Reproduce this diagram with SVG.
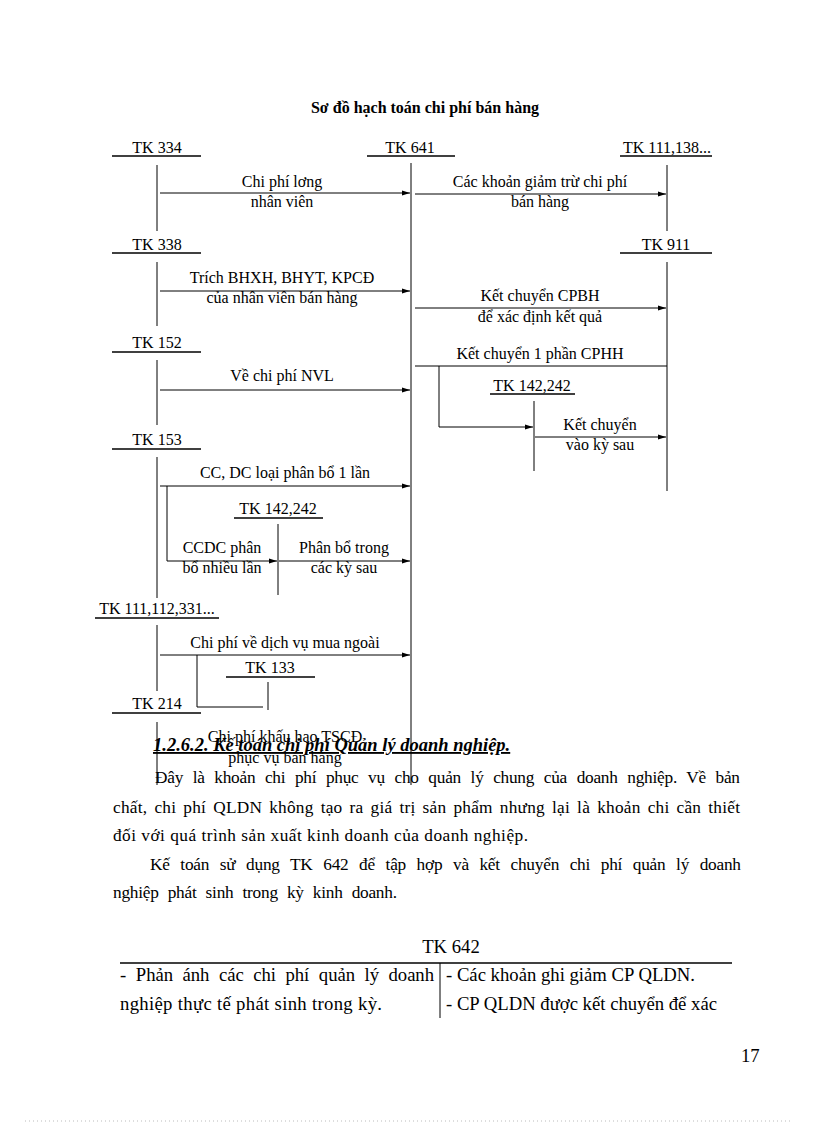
<svg xmlns="http://www.w3.org/2000/svg" width="816" height="1123" viewBox="0 0 816 1123">
<style>
.t{font-family:"Liberation Serif","Times New Roman",serif;font-size:16px;fill:#000}
.m{text-anchor:middle}
.b{font-family:"Liberation Serif","Times New Roman",serif;font-size:17.3px;fill:#000}
.tb{font-family:"Liberation Serif","Times New Roman",serif;font-size:18.7px;fill:#000}
.ln{stroke:#000;stroke-width:1;fill:none}
.ul{stroke:#000;stroke-width:1.3;fill:none}
</style>
<defs>
<marker id="ah" markerWidth="8" markerHeight="6" refX="8" refY="3" orient="auto" markerUnits="userSpaceOnUse">
<path d="M0,0.5 L8,3 L0,5.5 Z" fill="#000"/>
</marker>
</defs>
<rect width="816" height="1123" fill="#fff"/>
<text x="425" y="113" class="t m" style="font-weight:bold">Sơ đồ hạch toán chi phí bán hàng</text>

<g id="tk334"><text x="157" y="153" class="t m">TK 334</text><line x1="112" y1="156" x2="201" y2="156" class="ul"/><line x1="157" y1="165" x2="157" y2="231" class="ln"/></g>
<g id="tk641"><text x="410" y="153" class="t m">TK 641</text><line x1="367" y1="156" x2="455" y2="156" class="ul"/><line x1="411" y1="163" x2="411" y2="785" class="ln"/></g>
<g id="tk111_138"><text x="667" y="153" class="t m">TK 111,138...</text><line x1="620" y1="156" x2="712" y2="156" class="ul"/><line x1="667" y1="165" x2="667" y2="231" class="ln"/></g>
<g id="tk338"><text x="157" y="250" class="t m">TK 338</text><line x1="112" y1="253" x2="201" y2="253" class="ul"/><line x1="157" y1="262" x2="157" y2="326" class="ln"/></g>
<g id="tk911"><text x="666" y="250" class="t m">TK 911</text><line x1="620" y1="253" x2="712" y2="253" class="ul"/><line x1="667" y1="262" x2="667" y2="491" class="ln"/></g>
<g id="tk152"><text x="157" y="348" class="t m">TK 152</text><line x1="112" y1="352" x2="201" y2="352" class="ul"/><line x1="157" y1="360" x2="157" y2="425" class="ln"/></g>
<g id="tk142_242a"><text x="532" y="391" class="t m">TK 142,242</text><line x1="490" y1="394" x2="575" y2="394" class="ul"/><line x1="534" y1="401" x2="534" y2="471" class="ln"/></g>
<g id="tk153"><text x="157" y="445" class="t m">TK 153</text><line x1="112" y1="449" x2="201" y2="449" class="ul"/><line x1="157" y1="457" x2="157" y2="598" class="ln"/></g>
<g id="tk142_242b"><text x="278" y="514" class="t m">TK 142,242</text><line x1="234" y1="518" x2="323" y2="518" class="ul"/><line x1="278" y1="524" x2="278" y2="595" class="ln"/></g>
<g id="tk111_112_331"><text x="157" y="614" class="t m">TK 111,112,331...</text><line x1="95" y1="618" x2="219" y2="618" class="ul"/><line x1="157" y1="625" x2="157" y2="691" class="ln"/></g>
<g id="tk133"><text x="270" y="673" class="t m">TK 133</text><line x1="226" y1="677" x2="315" y2="677" class="ul"/><line x1="268" y1="682" x2="268" y2="710" class="ln"/></g>
<g id="tk214"><text x="157" y="709" class="t m">TK 214</text><line x1="112" y1="713" x2="201" y2="713" class="ul"/><line x1="157" y1="722" x2="157" y2="785" class="ln"/></g>

<g id="connectors">
<line x1="160" y1="193" x2="410" y2="193" class="ln" marker-end="url(#ah)"/>
<line x1="415" y1="194" x2="666" y2="194" class="ln" marker-end="url(#ah)"/>
<line x1="160" y1="291" x2="410" y2="291" class="ln" marker-end="url(#ah)"/>
<line x1="415" y1="308" x2="666" y2="308" class="ln" marker-end="url(#ah)"/>
<line x1="415" y1="366" x2="667" y2="366" class="ln"/>
<polyline points="439,366 439,427 533,427" class="ln" marker-end="url(#ah)"/>
<line x1="535" y1="437" x2="666" y2="437" class="ln" marker-end="url(#ah)"/>
<line x1="160" y1="390" x2="410" y2="390" class="ln" marker-end="url(#ah)"/>
<line x1="160" y1="486" x2="410" y2="486" class="ln" marker-end="url(#ah)"/>
<polyline points="167,486 167,561 277,561" class="ln" marker-end="url(#ah)"/>
<line x1="279" y1="561" x2="410" y2="561" class="ln" marker-end="url(#ah)"/>
<line x1="160" y1="655" x2="410" y2="655" class="ln" marker-end="url(#ah)"/>
<polyline points="197,655 197,707 263,707" class="ln"/>
</g>

<g id="labels">
<text x="282" y="187" class="t m">Chi phí lơng</text>
<text x="282" y="207" class="t m">nhân viên</text>
<text x="540" y="187" class="t m">Các khoản giảm trừ chi phí</text>
<text x="540" y="207" class="t m">bán hàng</text>
<text x="282" y="283" class="t m">Trích BHXH, BHYT, KPCĐ</text>
<text x="282" y="303" class="t m">của nhân viên bán hàng</text>
<text x="540" y="301" class="t m">Kết chuyển CPBH</text>
<text x="540" y="322" class="t m">để xác định kết quả</text>
<text x="540" y="359" class="t m">Kết chuyển 1 phần CPHH</text>
<text x="282" y="381" class="t m">Về chi phí NVL</text>
<text x="600" y="430" class="t m">Kết chuyển</text>
<text x="600" y="450" class="t m">vào kỳ sau</text>
<text x="285" y="478" class="t m">CC, DC loại phân bổ 1 lần</text>
<text x="222" y="553" class="t m">CCDC phân</text>
<text x="222" y="573" class="t m">bổ nhiều lần</text>
<text x="344" y="553" class="t m">Phân bổ trong</text>
<text x="344" y="573" class="t m">các kỳ sau</text>
<text x="285" y="648" class="t m">Chi phí về dịch vụ mua ngoài</text>
<text x="285" y="742" class="t m">Chi phí khấu hao TSCĐ</text>
<text x="285" y="763" class="t m">phục vụ bán hàng</text>
</g>

<g id="body">
<text x="153" y="751" class="b" style="font-size:18.5px;font-weight:bold;font-style:italic;text-decoration:underline">1.2.6.2. Kế toán chi phí Quản lý doanh nghiệp.</text>
<text x="155" y="783" class="b" style="word-spacing:5.5px" textLength="585" lengthAdjust="spacing">Đây là khoản chi phí phục vụ cho quản lý chung của doanh nghiệp. Về bản</text>
<text x="113" y="813" class="b" style="word-spacing:2.5px" textLength="627" lengthAdjust="spacing">chất, chi phí QLDN không tạo ra giá trị sản phẩm nhưng lại là khoản chi cần thiết</text>
<text x="113" y="841" class="b" textLength="415" lengthAdjust="spacing">đối với quá trình sản xuất kinh doanh của doanh nghiệp.</text>
<text x="150" y="870" class="b" style="word-spacing:6.5px" textLength="591" lengthAdjust="spacing">Kế toán sử dụng TK 642 để tập hợp và kết chuyển chi phí quản lý doanh</text>
<text x="113" y="898" class="b" style="word-spacing:5px" textLength="284" lengthAdjust="spacing">nghiệp phát sinh trong kỳ kinh doanh.</text>
<text x="451" y="953" class="tb m">TK 642</text>
<line x1="120" y1="963" x2="732" y2="963" class="ul"/>
<line x1="440" y1="963" x2="440" y2="1018" class="ln"/>
<text x="120" y="981" class="tb" style="word-spacing:5px" textLength="314" lengthAdjust="spacing">- Phản ánh các chi phí quản lý doanh</text>
<text x="120" y="1010" class="tb" textLength="262" lengthAdjust="spacing">nghiệp thực tế phát sinh trong kỳ.</text>
<text x="446" y="981" class="tb">- Các khoản ghi giảm CP QLDN.</text>
<text x="446" y="1010" class="tb">- CP QLDN được kết chuyển để xác</text>
<text x="741" y="1062" class="tb">17</text>
<line x1="25" y1="1121" x2="790" y2="1121" stroke="#bbb" stroke-width="1" stroke-dasharray="1,3"/>
</g>
</svg>
